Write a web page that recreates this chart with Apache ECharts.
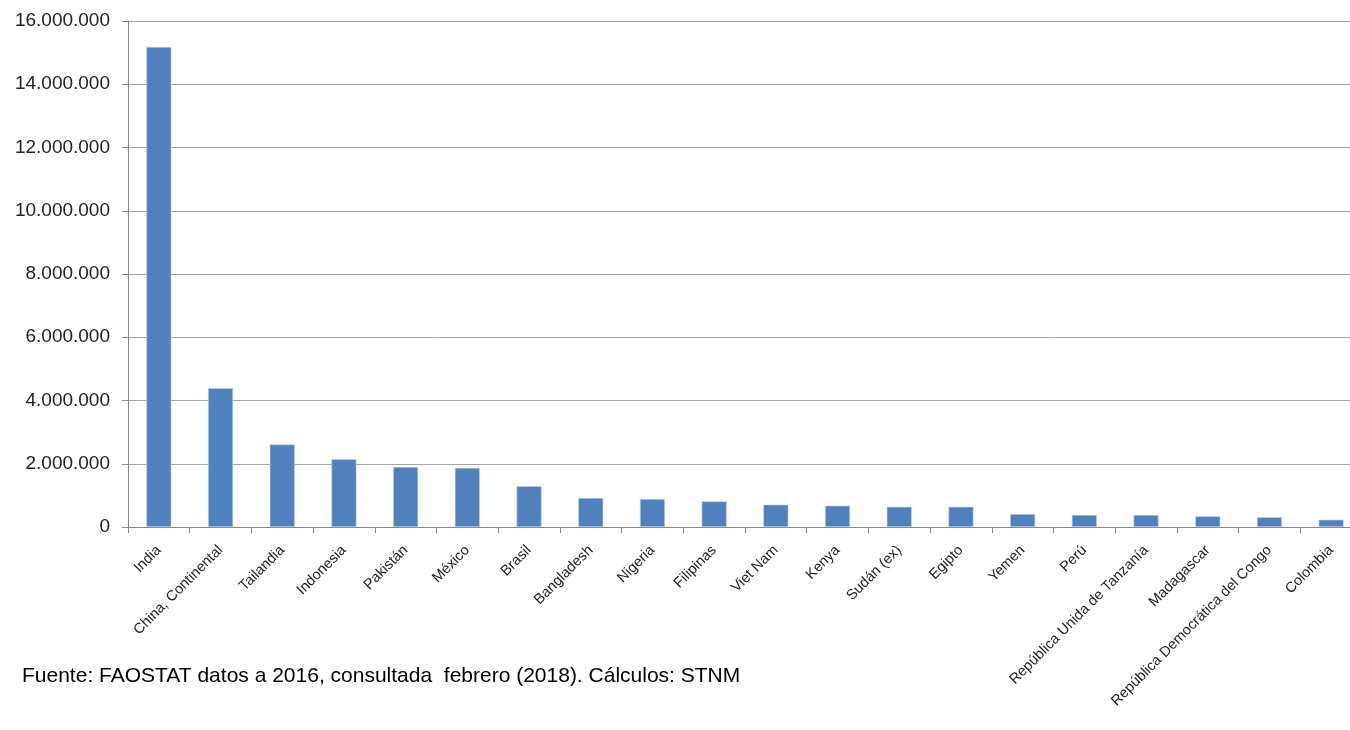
<!DOCTYPE html>
<html><head><meta charset="utf-8">
<script src="https://cdn.jsdelivr.net/npm/echarts@6/dist/echarts.min.js"></script>
<style>html,body{margin:0;padding:0;background:#fff;overflow:hidden;width:1350px;height:730px}#c{width:1362px;height:730px}</style>
</head><body><div id="c"></div>
<script>
const categories = ["India","China, Continental","Tailandia","Indonesia","Pakistán","México","Brasil","Bangladesh","Nigeria","Filipinas","Viet Nam","Kenya","Sudán (ex)","Egipto","Yemen","Perú","República Unida de Tanzanía","Madagascar","República Democrática del Congo","Colombia"];
const values = [15180000,4390000,2610000,2140000,1900000,1870000,1290000,917000,885000,810000,706000,674000,640000,640000,410000,380000,380000,340000,310000,230000];
const sourceNote = "Fuente: FAOSTAT datos a 2016, consultada  febrero (2018). Cálculos: STNM";
const yMax = 16000000, yStep = 2000000;

function fmt(v){ return String(v).replace(/\B(?=(\d{3})+(?!\d))/g, "."); }
const FONT = "Liberation Sans";
const chart = echarts.init(document.getElementById('c'));
chart.setOption({
  animation:false,
  textStyle:{fontFamily:FONT},
  grid:{left:128, top:21, right:0, height:506, containLabel:false},
  graphic:[{type:'text', left:22, top:666, style:{text:sourceNote, font:'21px "'+FONT+'"', fill:'#000'}}],
  xAxis:{type:'category', data:categories,
    axisLine:{lineStyle:{color:'#868686', width:1}},
    axisTick:{show:true, length:6, alignWithLabel:false, lineStyle:{color:'#868686'}},
    axisLabel:{rotate:45, interval:0, fontSize:14.5, color:'#222', margin:21, fontFamily:FONT}},
  yAxis:{type:'value', min:0, max:yMax, interval:yStep,
    axisLine:{show:true, lineStyle:{color:'#868686'}},
    axisTick:{show:true, length:6, lineStyle:{color:'#868686'}},
    splitLine:{lineStyle:{color:'#a6a6a6', width:1}},
    axisLabel:{formatter:fmt, fontSize:19, color:'#222', margin:18, fontFamily:FONT}},
  series:[{type:'bar', data:values, barWidth:25,
    itemStyle:{color:'#4f81bd', borderColor:'#c6d4e8', borderWidth:0.6}}]
});
</script></body></html>
